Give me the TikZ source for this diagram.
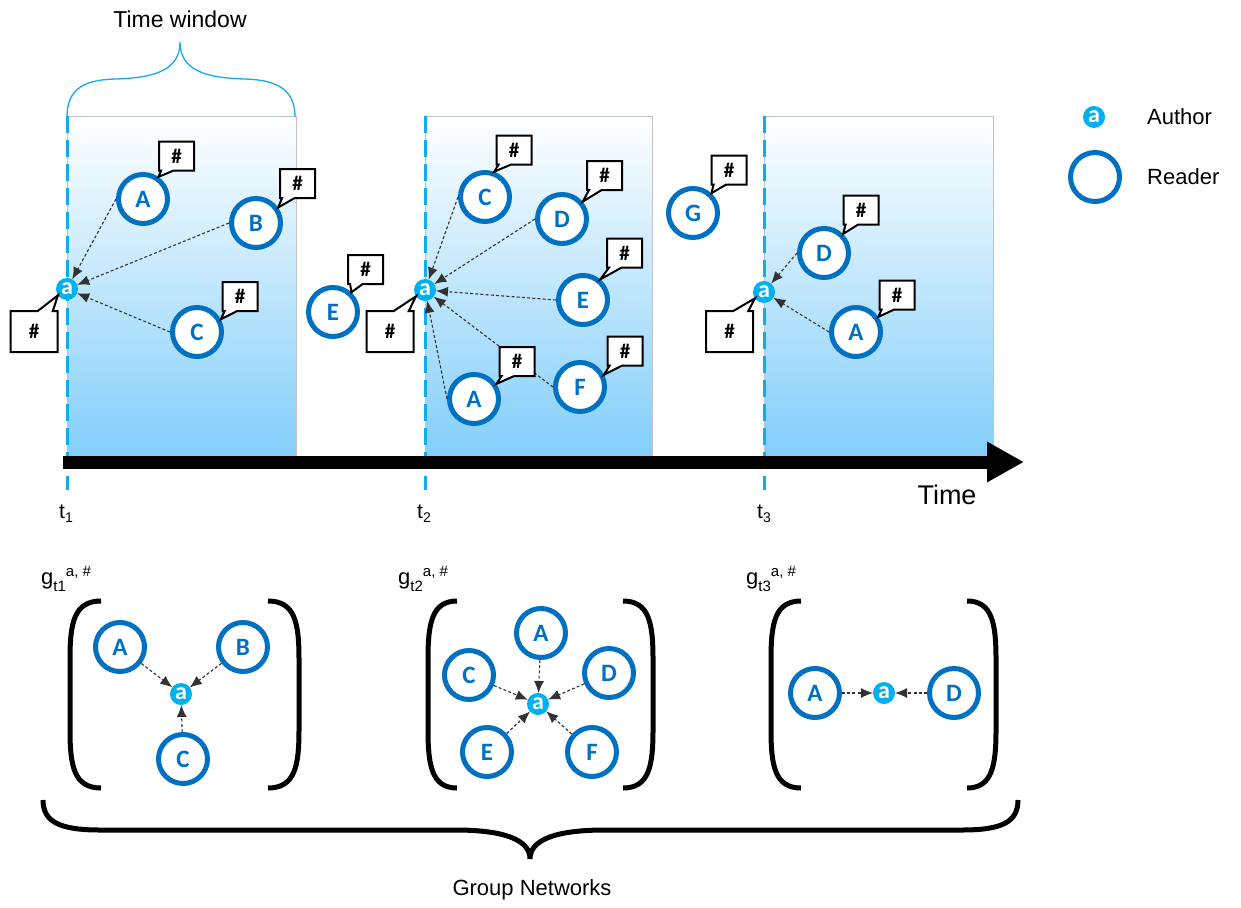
\documentclass[tikz,border=0pt]{standalone}
\usepackage{fontspec}
\setmainfont{Liberation Sans}
\newfontfamily\calfont{Carlito}
\usetikzlibrary{arrows.meta,calc}
\pgfdeclarelayer{front}
\pgfsetlayers{main,front}

\definecolor{rblue}{RGB}{0,112,192}
\definecolor{ablue}{RGB}{0,176,240}
\definecolor{skyb}{RGB}{130,206,250}
\definecolor{tline}{RGB}{20,170,235}
\definecolor{linkgray}{RGB}{50,50,50}
\definecolor{framegray}{RGB}{195,195,195}

\tikzset{
  reader/.style={circle, draw=rblue, line width=5pt, fill=white, minimum size=49pt,
    inner sep=0pt, text=rblue, font=\calfont\bfseries\fontsize{25}{25}\selectfont},
  author/.style={circle, fill=ablue, minimum size=22pt, inner sep=0pt, outer sep=0pt,
    text=white, font=\calfont\bfseries\fontsize{24}{24}\selectfont},
  tag/.style={minimum width=35pt, minimum height=29pt, inner sep=0pt, outer sep=0pt,
    font=\calfont\bfseries\fontsize{21}{21}\selectfont},
  authortagbox/.style={tag, minimum width=47pt, minimum height=41pt},
  tagline/.style={draw=black, line width=2pt, fill=white, line join=miter},
  link/.style={draw=linkgray, line width=1.1pt, dash pattern=on 3pt off 2.2pt,
    -{Latex[length=12pt,width=10pt]}},
  tdash/.style={draw=tline, line width=3pt, dash pattern=on 17pt off 7pt},
  window/.style={draw=framegray, line width=0.8pt, top color=white, bottom color=skyb},
  paren/.style={line width=5pt, line cap=butt},
  txt/.style={inner sep=0pt, font=\fontsize{22}{22}\selectfont},
}

% speech-bubble tag pointing down-left at a reader
\newcommand{\readertag}[3]{%
  \begin{pgfonlayer}{front}\node[tag] (#1) at (#2) {\#};\end{pgfonlayer}
  \draw[tagline] (#1.south west) -- (#1.north west) -- (#1.north east) -- (#1.south east)
    -- ($(#1.south west)!0.42!(#1.south east)$) -- (#3)
    -- ($(#1.south west)!0.06!(#1.south east)$) -- cycle;
}
% larger speech-bubble tag pointing up-right at an author
\newcommand{\authortag}[3]{%
  \begin{pgfonlayer}{front}\node[authortagbox] (#1) at (#2) {\#};\end{pgfonlayer}
  \draw[tagline] (#1.north west) -- ($(#1.north west)!0.58!(#1.north east)$) -- (#3)
    -- ($(#1.north west)!0.9!(#1.north east)$) -- (#1.north east) -- (#1.south east)
    -- (#1.south west) -- cycle;
}
% round brackets around a group network
\newcommand{\leftparen}[4]{% x left, x right, y top, y bottom
  \draw[paren] (#2,#3) .. controls ({#1+4},#3) and (#1,{#3+22}) .. (#1,{#3+58})
    -- (#1,{#4-58}) .. controls (#1,{#4-22}) and ({#1+4},#4) .. (#2,#4);
}
\newcommand{\rightparen}[4]{%
  \draw[paren] (#1,#3) .. controls ({#2-4},#3) and (#2,{#3+22}) .. (#2,{#3+58})
    -- (#2,{#4-58}) .. controls (#2,{#4-22}) and ({#2-4},#4) .. (#1,#4);
}
\newcommand{\glabel}[1]{g\raisebox{-7pt}{\fontsize{15}{15}\selectfont t#1}\raisebox{8pt}{\fontsize{15}{15}\selectfont a, \#}}

\begin{document}
\begin{tikzpicture}[x=1pt, y=-1pt]
\useasboundingbox (0,0) rectangle (1241,907);

% time windows
\draw[window] (67,116) rectangle (296,457);
\draw[window] (425,116) rectangle (652,457);
\draw[window] (764,116) rectangle (993,457);

% time markers
\draw[tdash] (67,116) -- (67,490);
\draw[tdash] (425,116) -- (425,490);
\draw[tdash] (764,116) -- (764,490);

% time axis
\draw[line width=13pt, -{Triangle[length=37pt,width=38pt]}] (63,462) -- (1024,462);
\node[txt, font=\fontsize{27}{27}\selectfont] (time) at (947,495) {Time};

\node[txt, anchor=base west, font=\fontsize{21}{21}\selectfont] (t1) at (59,518) {t\raisebox{-4pt}{\fontsize{14}{14}\selectfont 1}};
\node[txt, anchor=base west, font=\fontsize{21}{21}\selectfont] (t2) at (417,518) {t\raisebox{-4pt}{\fontsize{14}{14}\selectfont 2}};
\node[txt, anchor=base west, font=\fontsize{21}{21}\selectfont] (t3) at (757,518) {t\raisebox{-4pt}{\fontsize{14}{14}\selectfont 3}};

% time window brace
\draw[tline, line width=1.3pt] (67,117) .. controls (67,88) and (85,80) .. (115,79)
  .. controls (155,78) and (180,70) .. (180,42)
  .. controls (180,70) and (205,78) .. (245,79)
  .. controls (275,80) and (295,88) .. (295,117);
\node[txt, font=\fontsize{23}{23}\selectfont] (tw) at (180,19) {Time window};

% legend
\node[author] (la) at (1094,117) {a};
\node[txt, anchor=west] (lat) at (1147,117) {Author};
\node[reader] (lr) at (1095,177) {};
\node[txt, anchor=west] (lrt) at (1147,177) {Reader};

% ---- window t1
\node[author] (a1) at (67,289) {a};
\node[reader] (A1) at (143,199) {A};
\node[reader] (B1) at (256,223) {B};
\node[reader] (C1) at (197,332) {C};
\draw[link] (A1.west) -- (a1);
\draw[link] (B1.west) -- (a1);
\draw[link] (C1.west) -- (a1);

% reader between windows
\node[reader] (E0) at (333,312) {E};

% ---- window t2
\node[author] (a2) at (425,290) {a};
\node[reader] (C2) at (485,197) {C};
\node[reader] (D2) at (562,219) {D};
\node[reader] (E2) at (583,300) {E};
\node[reader] (F2) at (580,387) {F};
\node[reader] (A2) at (474,399) {A};
\draw[link] (C2.west) -- (a2);
\draw[link] (D2.west) -- (a2);
\draw[link] (E2.west) -- (a2);
\draw[link] (F2.west) -- (a2);
\draw[link] (A2.west) -- (a2);

% reader between windows
\node[reader] (G0) at (693,213) {G};

% ---- window t3
\node[author] (a3) at (764,292) {a};
\node[reader] (D3) at (824,253) {D};
\node[reader] (A3) at (856,332) {A};
\draw[link] (D3.west) -- (a3);
\draw[link] (A3.west) -- (a3);

% hashtag bubbles
\readertag{hA1}{176.5,156}{A1.55}
\readertag{hB1}{297.5,183.5}{B1.35}
\readertag{hC1}{240,296.5}{C1.28}
\authortag{ha1}{34,331.5}{a1.215}
\readertag{hE0}{365.5,269.5}{E0.47}
\readertag{hC2}{514,150}{C2.70}
\readertag{hD2}{604.5,175.5}{D2.40}
\readertag{hE2}{624.5,253}{E2.50}
\readertag{hF2}{625,351}{F2.27}
\readertag{hA2}{517,361.5}{A2.34}
\authortag{ha2}{390,331.5}{a2.215}
\readertag{hG0}{729,170}{G0.47}
\readertag{hD3}{861,210}{D3.45}
\readertag{hA3}{897,295}{A3.34}
\authortag{ha3}{729.5,331.5}{a3.215}

% ---- group networks
\node[txt, anchor=base west] (g1) at (41,584) {\glabel{1}};
\node[txt, anchor=base west] (g2) at (398,584) {\glabel{2}};
\node[txt, anchor=base west] (g3) at (746,584) {\glabel{3}};

\leftparen{70}{101}{601}{788}
\rightparen{268}{299}{601}{788}
\leftparen{428}{457}{601}{788}
\rightparen{623}{653}{601}{788}
\leftparen{771}{801}{601}{788}
\rightparen{967}{996}{601}{788}

\node[author] (ga1) at (181,694) {a};
\node[reader] (gA1) at (120,647) {A};
\node[reader] (gB1) at (243,647) {B};
\node[reader] (gC1) at (183,759) {C};
\draw[link] (gA1) -- (ga1);
\draw[link] (gB1) -- (ga1);
\draw[link] (gC1) -- (ga1);

\node[author] (ga2) at (538,704) {a};
\node[reader] (gA2) at (541,633) {A};
\node[reader] (gC2) at (469,675) {C};
\node[reader] (gD2) at (609,673) {D};
\node[reader] (gE2) at (487,752) {E};
\node[reader] (gF2) at (592,752) {F};
\draw[link] (gA2) -- (ga2);
\draw[link] (gC2) -- (ga2);
\draw[link] (gD2) -- (ga2);
\draw[link] (gE2) -- (ga2);
\draw[link] (gF2) -- (ga2);

\node[author] (ga3) at (884,693) {a};
\node[reader] (gA3) at (815,693) {A};
\node[reader] (gD3) at (954,693) {D};
\draw[link] (gA3) -- (ga3);
\draw[link] (gD3) -- (ga3);

% brace gathering the group networks
\draw[line width=5pt] (43,800) .. controls (43,822) and (60,830) .. (100,830)
  -- (455,830) .. controls (505,830) and (530,840) .. (530,859)
  .. controls (530,840) and (555,830) .. (605,830)
  -- (962,830) .. controls (1002,830) and (1018,822) .. (1018,800);
\node[txt] (gn) at (532,890) {Group Networks};
\end{tikzpicture}
\end{document}
